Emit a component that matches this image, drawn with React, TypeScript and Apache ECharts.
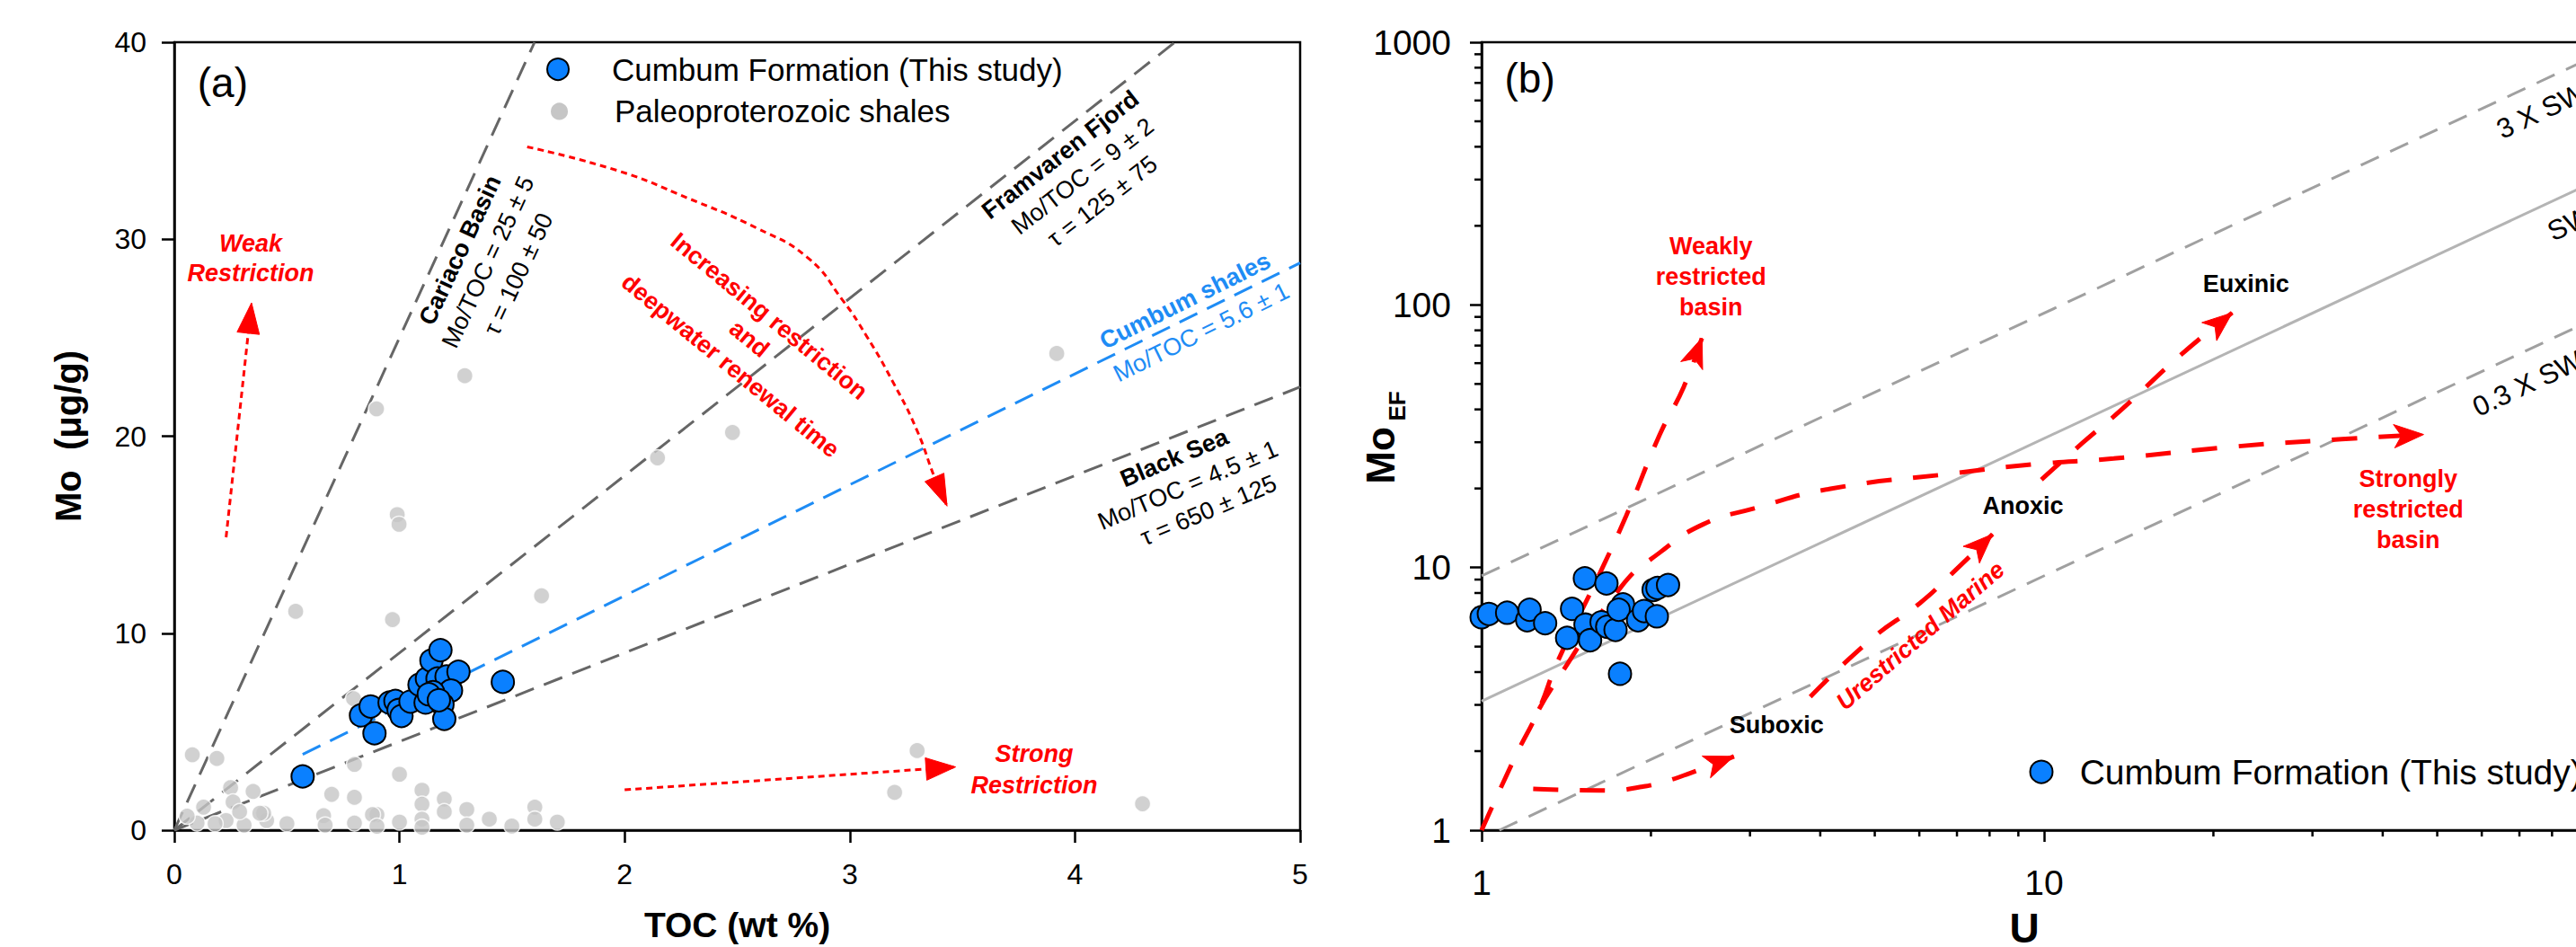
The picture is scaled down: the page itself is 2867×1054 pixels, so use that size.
import React, { useEffect, useRef } from 'react';
import * as echarts from 'echarts';

const FONT = "'Liberation Sans', Arial, Helvetica, sans-serif";
const RED = '#ff0000';
const BLUE = '#0a80ff';
const BLUE_LINE = '#1e8cf5';
const GRAY_PT = '#c6c6c6';

// ---------- Panel (a): TOC (wt %) vs Mo (ug/g) ----------
const cumbumA: number[][] = [
  [0.57, 2.73], [0.829, 5.83], [0.872, 6.28], [0.889, 4.92], [0.956, 6.48], [0.982, 6.56],
  [0.996, 6.1], [1.009, 5.8], [1.049, 6.53], [1.089, 7.39], [1.116, 6.48], [1.122, 7.7],
  [1.142, 8.61], [1.182, 9.14], [1.169, 7.7], [1.209, 7.8], [1.262, 8.04], [1.229, 7.09],
  [1.191, 6.38], [1.199, 5.65], [1.459, 7.53], [1.149, 7.01], [1.13, 6.9], [1.175, 6.6],
];
const paleoA: number[][] = [
  [0.539, 11.11], [0.969, 10.69], [1.631, 11.9], [0.08, 3.83], [0.189, 3.64], [0.796, 6.68],
  [0.8, 3.34], [1.0, 2.84], [0.25, 2.16], [0.35, 1.97], [0.261, 1.43], [0.13, 1.17],
  [0.699, 1.82], [0.8, 1.67], [1.1, 2.03], [1.1, 1.32], [1.199, 1.58], [1.199, 0.94],
  [1.299, 1.05], [1.399, 0.56], [1.499, 0.21], [1.601, 1.17], [1.601, 0.56], [1.701, 0.41],
  [1.299, 0.26], [1.1, 0.56], [1.0, 0.41], [0.9, 0.79], [0.88, 0.79], [0.8, 0.36],
  [0.663, 0.74], [0.67, 0.26], [0.5, 0.33], [0.41, 0.49], [0.397, 0.86], [0.31, 0.26],
  [0.23, 0.49], [0.181, 0.33], [0.101, 0.36], [0.057, 0.71], [0.29, 0.94], [0.38, 0.86],
  [0.9, 0.2], [1.1, 0.15],
  [1.29, 23.07], [0.898, 21.39], [0.99, 16.02], [0.998, 15.53], [2.146, 18.9], [2.479, 20.19],
  [3.919, 24.2], [3.299, 4.04], [3.199, 1.92], [4.3, 1.34],
];
const cariacoLine: number[][] = [[0, 0], [1.6, 40]];
const framvarenLine: number[][] = [[0, 0], [4.444, 40]];
const blackSeaLine: number[][] = [[0, 0], [5, 22.5]];
const cumbumShaleLine: number[][] = [[0.57, 3.85], [5, 28.8]];
const weakArrow: number[][] = [[0.23, 14.87], [0.343, 26.77]];
const strongArrow: number[][] = [[2.0, 2.05], [3.47, 3.21]];
const increasingArrow: number[][] = [
  [1.567, 34.69], [1.972, 33.47], [2.278, 32.1], [2.584, 30.58], [2.813, 29.06], [2.966, 26.94],
  [3.073, 25.11], [3.195, 22.68], [3.299, 20.28], [3.379, 17.83], [3.432, 16.45],
];
// tipX, tipY, prevX, prevY, length, width, notch
const arrowHeadsA: number[][] = [
  [0.343, 26.77, 0.23, 14.87, 34, 25, 0],
  [3.47, 3.21, 2.0, 2.05, 33, 25, 0],
  [3.432, 16.45, 3.379, 17.83, 35, 23, 0],
];

// ---------- Panel (b): U vs Mo_EF (log-log) ----------
const cumbumB: number[][] = [
  [1.0, 6.47], [1.03, 6.66], [1.11, 6.73], [1.205, 6.3], [1.217, 6.91], [1.297, 6.14],
  [1.419, 5.4], [1.448, 6.96], [1.526, 9.1], [1.53, 6.06], [1.559, 5.29], [1.634, 6.19],
  [1.667, 8.7], [1.672, 5.95], [1.73, 5.79], [1.762, 3.94], [1.784, 7.24], [1.752, 6.91],
  [1.897, 6.3], [1.944, 6.83], [2.049, 6.52], [2.022, 8.22], [2.054, 8.36], [2.145, 8.58],
];
const swLine: number[][] = [[1, 3.1], [100, 310]];
const sw3Line: number[][] = [[1, 9.3], [100, 930]];
const sw03Line: number[][] = [[1.0753, 1], [100, 93]];
const weaklyArrow: number[][] = [
  [1, 1], [1.147, 1.9], [1.265, 2.89], [1.362, 4.34], [1.647, 10.18], [1.806, 15.7],
  [2.074, 32.1], [2.29, 49], [2.465, 74.9],
];
const suboxicArrow: number[][] = [
  [1.235, 1.436], [1.7, 1.417], [1.92, 1.462], [2.09, 1.52], [2.34, 1.645], [2.81, 1.91],
];
const anoxicArrow: number[][] = [[3.84, 3.22], [4.92, 5.32], [6.01, 7.31], [6.87, 9.52], [8.1, 13.4]];
const euxinicArrow: number[][] = [[9.89, 21.6], [11.68, 29.7], [13.8, 40.3], [17.4, 63.8], [21.6, 93.3]];
const stronglyArrow: number[][] = [
  [1.265, 2.89], [1.337, 3.52], [1.773, 8.48], [2.07, 11.37], [2.475, 14.6], [3.05, 16.8],
  [4.17, 19.95], [6.87, 22.8], [9.56, 24.7], [13.3, 26.0], [21.9, 28.9], [33.8, 30.8], [47.3, 32.1],
];
const arrowHeadsB: number[][] = [
  [2.465, 74.9, 2.29, 49, 33, 26, 0.25],
  [2.81, 1.91, 2.34, 1.645, 33, 26, 0.25],
  [8.1, 13.4, 6.87, 9.52, 33, 26, 0.25],
  [21.6, 93.3, 17.4, 63.8, 33, 26, 0.25],
  [47.3, 32.1, 33.8, 30.8, 33, 26, 0.25],
];
const minorTicksU: number[] = [2, 3, 4, 5, 6, 7, 8, 9, 20, 30, 40, 50, 60, 70, 80, 90];
const minorTicksMoEF: number[] = [
  2, 3, 4, 5, 6, 7, 8, 9, 20, 30, 40, 50, 60, 70, 80, 90, 200, 300, 400, 500, 600, 700, 800, 900,
];

type Ann = {
  g: number; at: number[]; text: string; size?: number; bold?: boolean; italic?: boolean;
  color?: string; rot?: number; lh?: number; align?: string;
};
const annotations: Ann[] = [
  { g: 0, at: [0.215, 37.95], text: '(a)', size: 46 },
  { g: 0, at: [0.339, 29.05], text: 'Weak\nRestriction', bold: true, italic: true, color: RED, lh: 33 },
  { g: 0, at: [3.819, 3.08], text: 'Strong\nRestriction', bold: true, italic: true, color: RED, lh: 35 },
  { g: 0, at: [1.269, 29.45], text: 'Cariaco Basin', bold: true, rot: 65 },
  { g: 0, at: [1.393, 28.84], text: 'Mo/TOC = 25 ± 5', rot: 65 },
  { g: 0, at: [1.528, 28.23], text: 'τ = 100 ± 50', rot: 65 },
  { g: 0, at: [3.935, 34.29], text: 'Framvaren Fjord', bold: true, rot: 38 },
  { g: 0, at: [4.034, 33.2], text: 'Mo/TOC = 9 ± 2', rot: 38 },
  { g: 0, at: [4.122, 31.93], text: 'τ = 125 ± 75', rot: 38 },
  { g: 0, at: [4.489, 26.88], text: 'Cumbum shales', bold: true, rot: 26.5, color: BLUE_LINE },
  { g: 0, at: [4.561, 25.27], text: 'Mo/TOC = 5.6 ± 1', rot: 26.5, color: BLUE_LINE },
  { g: 0, at: [4.441, 18.9], text: 'Black Sea', bold: true, rot: 23 },
  { g: 0, at: [4.501, 17.51], text: 'Mo/TOC = 4.5 ± 1', rot: 23 },
  { g: 0, at: [4.593, 16.24], text: 'τ = 650 ± 125', rot: 23 },
  { g: 0, at: [2.642, 26.09], text: 'Increasing restriction', bold: true, rot: -39.5, color: RED },
  { g: 0, at: [2.554, 24.95], text: 'and', bold: true, rot: -39.5, color: RED },
  { g: 0, at: [2.47, 23.58], text: 'deepwater renewal time', bold: true, rot: -39.5, color: RED },
  { g: 1, at: [1.218, 727], text: '(b)', size: 46 },
  { g: 1, at: [2.557, 128.3], text: 'Weakly\nrestricted\nbasin', bold: true, color: RED, lh: 34 },
  { g: 1, at: [44.4, 16.64], text: 'Strongly\nrestricted\nbasin', bold: true, color: RED, lh: 34 },
  { g: 1, at: [22.86, 119.8], text: 'Euxinic', bold: true },
  { g: 1, at: [9.17, 17.2], text: 'Anoxic', bold: true },
  { g: 1, at: [3.345, 2.504], text: 'Suboxic', bold: true },
  { g: 1, at: [6.025, 5.5], text: 'Urestricted Marine', bold: true, italic: true, color: RED, rot: 40.8 },
  { g: 1, at: [64.2, 459.7], text: '3 X SW', size: 31, rot: 25, align: 'left' },
  { g: 1, at: [79.07, 187.4], text: 'SW', size: 31, rot: 25, align: 'left' },
  { g: 1, at: [58.2, 40.3], text: '0.3 X SW', size: 31, rot: 25, align: 'left' },
];

// legend entries: grid, symbol position, text position, label, symbol diameter, fill, stroke, font size
const legendItems = [
  { g: 0, sym: [1.704, 38.63], txt: [1.943, 38.63], label: 'Cumbum Formation (This study)', d: 26, fill: BLUE, stroke: '#000', fs: 35 },
  { g: 0, sym: [1.71, 36.49], txt: [1.955, 36.49], label: 'Paleoproterozoic shales', d: 19, fill: GRAY_PT, stroke: GRAY_PT, fs: 35 },
  { g: 1, sym: [9.89, 1.668], txt: [11.57, 1.668], label: 'Cumbum Formation (This study)', d: 27, fill: BLUE, stroke: '#000', fs: 39 },
];

const axisLineStyle = { color: '#000', width: 2.5 };

function arrowHeadRender(params: any, api: any) {
  const tip = api.coord([api.value(0), api.value(1)]);
  const prev = api.coord([api.value(2), api.value(3)]);
  const len = api.value(4);
  const w = api.value(5);
  const notch = api.value(6);
  let dx = tip[0] - prev[0];
  let dy = tip[1] - prev[1];
  const L = Math.hypot(dx, dy) || 1;
  dx /= L; dy /= L;
  const bx = tip[0] - dx * len;
  const by = tip[1] - dy * len;
  const px = -dy, py = dx;
  const nx = tip[0] - dx * len * (1 - notch);
  const ny = tip[1] - dy * len * (1 - notch);
  return {
    type: 'polygon',
    shape: { points: [[tip[0], tip[1]], [bx + px * w / 2, by + py * w / 2], [nx, ny], [bx - px * w / 2, by - py * w / 2]] },
    style: { fill: RED, stroke: RED, lineWidth: 1 },
  };
}

function lineSeries(name: string, xi: number, data: number[][], color: string, width: number, type: any, smooth = false) {
  return {
    name, type: 'line', xAxisIndex: xi, yAxisIndex: xi, data, symbol: 'none', silent: true,
    smooth, lineStyle: { color, width, type, cap: 'butt' }, z: 2,
  };
}

export default function App() {
  const ref = useRef<HTMLDivElement>(null);
  useEffect(() => {
    if (!ref.current) return;
    const chart = echarts.init(ref.current, null, { renderer: 'svg' });
    const fmt = (v: number) => String(Math.round(v));
    const option: any = {
      animation: false,
      backgroundColor: '#ffffff',
      textStyle: { fontFamily: FONT },
      grid: [
        { left: 194, top: 47, width: 1253, height: 877, show: true, borderColor: '#000', borderWidth: 2.5, backgroundColor: 'transparent', containLabel: false, outerBoundsMode: 'none' },
        { left: 1649, top: 47, width: 1252, height: 877, show: true, borderColor: '#000', borderWidth: 2.5, backgroundColor: 'transparent', containLabel: false, outerBoundsMode: 'none' },
      ],
      xAxis: [
        {
          gridIndex: 0, type: 'value', min: 0, max: 5, interval: 1,
          axisLine: { show: true, onZero: false, lineStyle: axisLineStyle },
          axisTick: { show: true, length: 14, inside: false, lineStyle: axisLineStyle },
          axisLabel: { margin: 33, fontSize: 32, color: '#000', fontFamily: FONT },
          splitLine: { show: false },
          name: 'TOC (wt %)', nameLocation: 'middle', nameGap: 86,
          nameTextStyle: { fontSize: 39, fontWeight: 'bold', color: '#000', fontFamily: FONT },
        },
        {
          gridIndex: 1, type: 'log', logBase: 10, min: 1, max: 100,
          axisLine: { show: true, onZero: false, lineStyle: axisLineStyle },
          axisTick: { show: true, length: 13, inside: false, lineStyle: axisLineStyle },
          minorTick: { show: false },
          axisLabel: { margin: 39, fontSize: 39, color: '#000', fontFamily: FONT, formatter: fmt, showMaxLabel: false },
          splitLine: { show: false },
          name: 'U', nameLocation: 'middle', nameGap: 86,
          nameTextStyle: { fontSize: 46, fontWeight: 'bold', color: '#000', fontFamily: FONT, padding: [0, 44, 0, 0] },
        },
      ],
      yAxis: [
        {
          gridIndex: 0, type: 'value', min: 0, max: 40, interval: 10,
          axisLine: { show: true, onZero: false, lineStyle: axisLineStyle },
          axisTick: { show: true, length: 14, inside: false, lineStyle: axisLineStyle },
          axisLabel: { margin: 31, fontSize: 32, color: '#000', fontFamily: FONT },
          splitLine: { show: false },
          name: 'Mo  (μg/g)', nameLocation: 'middle', nameGap: 98, nameRotate: 90,
          nameTextStyle: { fontSize: 40, fontWeight: 'bold', color: '#000', fontFamily: FONT },
        },
        {
          gridIndex: 1, type: 'log', logBase: 10, min: 1, max: 1000,
          axisLine: { show: true, onZero: false, lineStyle: axisLineStyle },
          axisTick: { show: true, length: 13, inside: false, lineStyle: axisLineStyle },
          minorTick: { show: false },
          axisLabel: { margin: 34, fontSize: 39, color: '#000', fontFamily: FONT, formatter: fmt },
          splitLine: { show: false },
        },
      ],
      series: [
        lineSeries('Cariaco Basin', 0, cariacoLine, '#666666', 3, [22, 12]),
        lineSeries('Framvaren Fjord', 0, framvarenLine, '#666666', 3, [22, 12]),
        lineSeries('Black Sea', 0, blackSeaLine, '#666666', 3, [22, 12]),
        lineSeries('Cumbum shales', 0, cumbumShaleLine, BLUE_LINE, 3, [22, 12]),
        lineSeries('weak', 0, weakArrow, RED, 3, [7, 5]),
        lineSeries('strong', 0, strongArrow, RED, 3, [7, 5]),
        lineSeries('increasing', 0, increasingArrow, RED, 3, [7, 5], true),
        {
          name: 'headsA', type: 'custom', xAxisIndex: 0, yAxisIndex: 0, data: arrowHeadsA,
          renderItem: arrowHeadRender, silent: true, clip: false, z: 3,
        },
        {
          name: 'Paleoproterozoic shales', type: 'scatter', xAxisIndex: 0, yAxisIndex: 0, data: paleoA,
          symbol: 'circle', symbolSize: 18, itemStyle: { color: GRAY_PT, borderColor: '#ffffff', borderWidth: 1.5 }, z: 4, silent: true,
        },
        {
          name: 'Cumbum Formation (This study)', type: 'scatter', xAxisIndex: 0, yAxisIndex: 0, data: cumbumA,
          symbol: 'circle', symbolSize: 25, itemStyle: { color: BLUE, borderColor: '#000', borderWidth: 2, opacity: 1 }, z: 5, silent: true,
        },
        lineSeries('SW', 1, swLine, '#b4b4b4', 3, 'solid'),
        lineSeries('3 X SW', 1, sw3Line, '#a0a0a0', 3, [22, 14]),
        lineSeries('0.3 X SW', 1, sw03Line, '#a0a0a0', 3, [22, 14]),
        lineSeries('weakly', 1, weaklyArrow, RED, 5, [28, 24], true),
        lineSeries('suboxic', 1, suboxicArrow, RED, 5, [28, 24], true),
        lineSeries('anoxic', 1, anoxicArrow, RED, 5, [28, 24], true),
        lineSeries('euxinic', 1, euxinicArrow, RED, 5, [28, 24], true),
        lineSeries('strongly', 1, stronglyArrow, RED, 5, [28, 24], true),
        {
          name: 'headsB', type: 'custom', xAxisIndex: 1, yAxisIndex: 1, data: arrowHeadsB,
          renderItem: arrowHeadRender, silent: true, clip: false, z: 3,
        },
        {
          name: 'minorU', type: 'custom', xAxisIndex: 1, yAxisIndex: 1, data: minorTicksU.map((v) => [v, 1]),
          silent: true, clip: false, z: 3,
          renderItem: (p: any, api: any) => {
            const c = api.coord([api.value(0), api.value(1)]);
            return { type: 'line', shape: { x1: c[0], y1: c[1], x2: c[0], y2: c[1] + 7 }, style: { stroke: '#000', lineWidth: 2.5 } };
          },
        },
        {
          name: 'minorMoEF', type: 'custom', xAxisIndex: 1, yAxisIndex: 1, data: minorTicksMoEF.map((v) => [1, v]),
          silent: true, clip: false, z: 3,
          renderItem: (p: any, api: any) => {
            const c = api.coord([api.value(0), api.value(1)]);
            return { type: 'line', shape: { x1: c[0], y1: c[1], x2: c[0] - 8, y2: c[1] }, style: { stroke: '#000', lineWidth: 2.5 } };
          },
        },
        {
          name: 'Cumbum Formation (This study) ', type: 'scatter', xAxisIndex: 1, yAxisIndex: 1, data: cumbumB,
          symbol: 'circle', symbolSize: 25, itemStyle: { color: BLUE, borderColor: '#000', borderWidth: 2, opacity: 1 }, z: 5, silent: true,
        },
      ],
    };
    chart.setOption(option);

    const toPx = (g: number, p: number[]) => chart.convertToPixel({ gridIndex: g } as any, p) as unknown as number[];
    const els: any[] = [];
    annotations.forEach((a) => {
      const p = toPx(a.g, a.at);
      const size = a.size || 27;
      const al = a.align || 'center';
      els.push({
        type: 'text', x: p[0], y: p[1], rotation: ((a.rot || 0) * Math.PI) / 180, z: 10, silent: true,
        style: {
          text: a.text, fontSize: size, fontFamily: FONT,
          fontWeight: a.bold ? 'bold' : 'normal', fontStyle: a.italic ? 'italic' : 'normal',
          fill: a.color || '#000', align: al, textAlign: al, verticalAlign: 'middle', textVerticalAlign: 'middle',
          lineHeight: a.lh || size,
        },
      });
    });
    legendItems.forEach((l) => {
      const s = toPx(l.g, l.sym);
      const t = toPx(l.g, l.txt);
      els.push({
        type: 'circle', shape: { cx: s[0], cy: s[1], r: l.d / 2 - 1 }, z: 10, silent: true,
        style: { fill: l.fill, stroke: l.stroke, lineWidth: 2 },
      });
      els.push({
        type: 'text', x: t[0], y: t[1], z: 10, silent: true,
        style: {
          text: l.label, fontSize: l.fs, fontFamily: FONT, fill: '#000',
          align: 'left', textAlign: 'left', verticalAlign: 'middle', textVerticalAlign: 'middle',
        },
      });
    });
    // y-axis title of panel (b): Mo with subscript EF
    const yb = toPx(1, [1, 1]);
    els.push({
      type: 'text', x: yb[0] - 113, y: 507, rotation: Math.PI / 2, z: 10, silent: true,
      style: { text: 'Mo', fontSize: 44, fontWeight: 'bold', fontFamily: FONT, fill: '#000', align: 'center', textAlign: 'center', verticalAlign: 'middle', textVerticalAlign: 'middle' },
    });
    els.push({
      type: 'text', x: yb[0] - 94, y: 452, rotation: Math.PI / 2, z: 10, silent: true,
      style: { text: 'EF', fontSize: 26, fontWeight: 'bold', fontFamily: FONT, fill: '#000', align: 'center', textAlign: 'center', verticalAlign: 'middle', textVerticalAlign: 'middle' },
    });
    chart.setOption({ graphic: { elements: els } });

    return () => chart.dispose();
  }, []);

  return (
    <div style={{ position: 'fixed', left: 0, top: 0, width: '2867px', height: '1054px', overflow: 'hidden', background: '#fff' }}>
      <div ref={ref} style={{ width: '2960px', height: '1054px' }} />
    </div>
  );
}
